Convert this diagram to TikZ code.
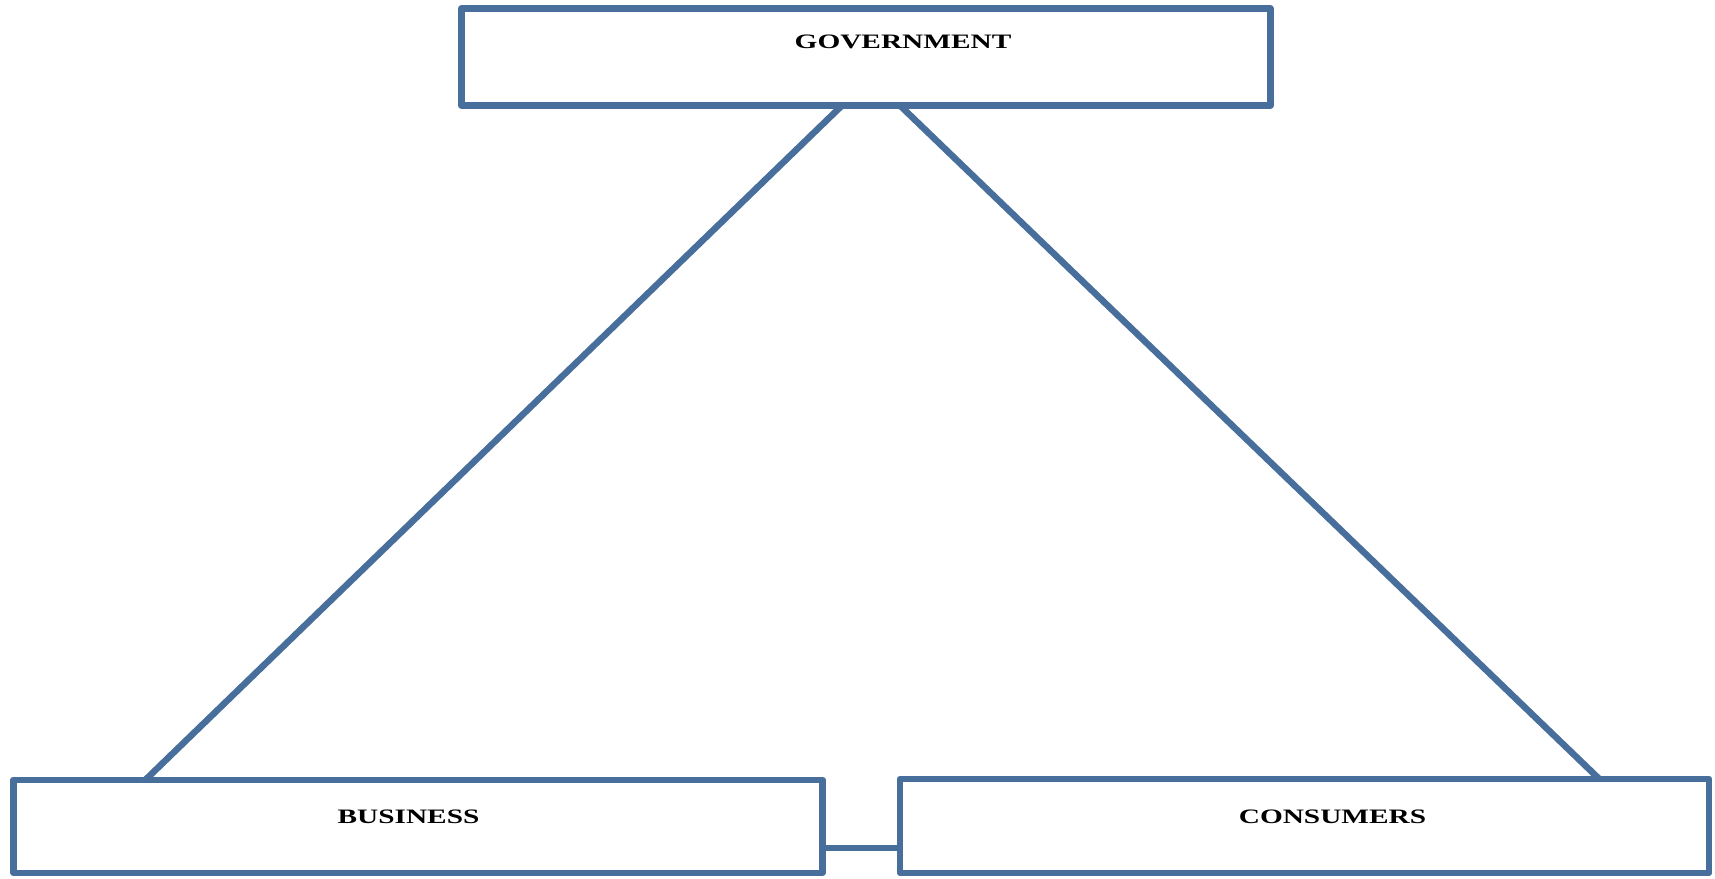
\documentclass[tikz,border=0pt]{standalone}
\usepackage{fontspec}
\newfontfamily\lblfont{Liberation Serif}[FakeStretch=1.43]
\definecolor{boxblue}{RGB}{72,110,155}
\tikzset{
  box/.style={draw=boxblue, line width=6.5pt, rectangle, inner sep=0pt, outer sep=0pt, fill=white, line join=round},
  lbl/.style={anchor=base, inner sep=0pt, font=\lblfont\bfseries\fontsize{20.5}{23}\selectfont, text=black},
  link/.style={draw=boxblue, line width=6.5pt}
}
\begin{document}
\begin{tikzpicture}[x=1pt,y=-1pt]
\useasboundingbox (0,0) rectangle (1715,878);
\node[box, minimum width=809pt, minimum height=97pt] (gov) at (865.8,57) {};
\node[box, minimum width=809pt, minimum height=93pt] (bus) at (418,826.25) {};
\node[box, minimum width=809pt, minimum height=94pt] (con) at (1304.5,825.75) {};
\draw[link] ([xshift=-23.8pt]gov.south) -- ([xshift=-272.5pt]bus.north);
\draw[link] ([xshift=34.2pt]gov.south) -- ([xshift=294.5pt]con.north);
\draw[link] ([yshift=-21.5pt]bus.east) -- ([yshift=-21.5pt]bus.east -| con.west);
\node[lbl] (govt) at (903,48.5) {GOVERNMENT};
\node[lbl] (bust) at (408.5,823.5) {BUSINESS};
\node[lbl] (cont) at (1332.5,823.5) {CONSUMERS};
\end{tikzpicture}
\end{document}
